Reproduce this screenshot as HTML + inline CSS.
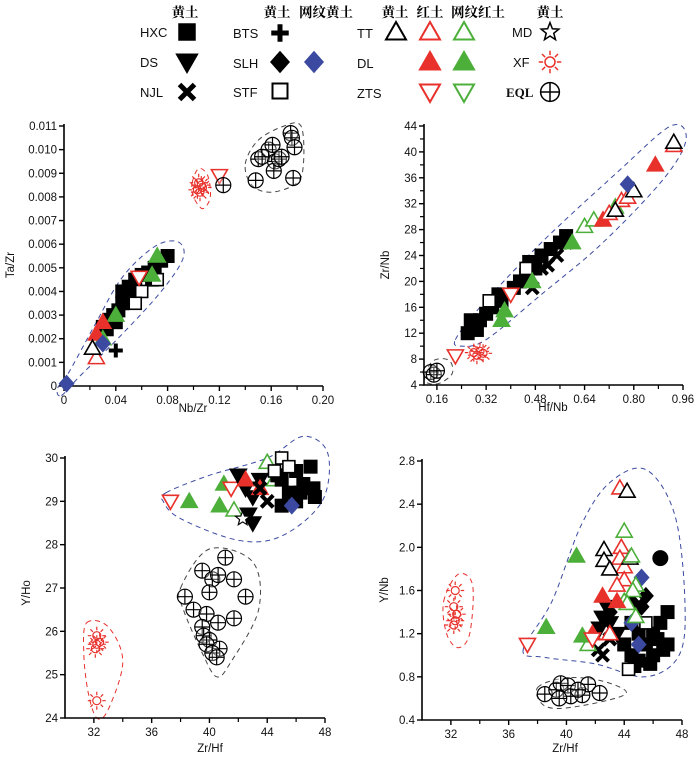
<!DOCTYPE html>
<html><head><meta charset="utf-8"><style>
html,body{margin:0;padding:0;background:#fff;}
svg{display:block;font-family:"Liberation Sans",Arial,sans-serif;}
.cjk{font-family:"Liberation Serif","Noto Serif CJK SC","Noto Sans CJK SC",serif;font-weight:bold;font-size:13.5px;}
.tl{font-size:11.5px;fill:#111;}
.ll{font-size:13px;fill:#111;}
</style></head><body>
<svg id="chart" width="700" height="760" viewBox="0 0 700 760">
<g id="legend"></g>
<g id="plots"></g>
</svg>
<script>
// ---------- Panel 1: Nb/Zr vs Ta/Zr ----------
const p1_HXC=[[0.030,0.0025],[0.035,0.0028],[0.038,0.0030],[0.042,0.0032],[0.045,0.0035],[0.048,0.0040],[0.050,0.0042],[0.055,0.0045],[0.060,0.0047],[0.065,0.0048],[0.070,0.0050],[0.075,0.0053],[0.080,0.0055],[0.045,0.0040],[0.052,0.0038],[0.068,0.0045],[0.040,0.0027],[0.033,0.0024]];
const p1_STF=[[0.060,0.0040],[0.055,0.0035],[0.072,0.0045]];
const p1_GF=[[0.072,0.0055],[0.068,0.0047],[0.030,0.0020],[0.040,0.0030]];
const p1_RF=[[0.025,0.0022],[0.030,0.0027]];
const p1_RO=[[0.025,0.0012]];
const p1_KO=[[0.022,0.0016]];
const p1_BTS=[[0.040,0.0015]];
const p1_BLUE=[[0.002,0.0001],[0.030,0.0018]];
const p1_RD=[[0.058,0.0046],[0.120,0.0089]];
const p1_XF=[[0.103,0.0083],[0.106,0.0085],[0.105,0.0082],[0.107,0.0084],[0.104,0.0086]];
const p1_EQL=[[0.123,0.0085],[0.148,0.0087],[0.150,0.0096],[0.153,0.0097],[0.158,0.0100],[0.161,0.0102],[0.163,0.0095],[0.162,0.0091],[0.166,0.0096],[0.168,0.0097],[0.175,0.0107],[0.176,0.0105],[0.178,0.0101],[0.177,0.0088]];
const p1_envBlue=[[-0.002,-0.0004],[0.012,0.0004],[0.045,0.0022],[0.075,0.0040],[0.092,0.0054],[0.088,0.0061],[0.070,0.0059],[0.045,0.0046],[0.024,0.0026],[0.004,0.0006],[-0.005,-0.0001]];
const p1_envRed=[[0.099,0.0086],[0.104,0.0092],[0.111,0.0089],[0.113,0.0080],[0.107,0.0075],[0.100,0.0080]];
const p1_envBlack=[[0.140,0.0094],[0.150,0.0104],[0.170,0.0110],[0.183,0.0110],[0.185,0.0095],[0.180,0.0086],[0.160,0.0082],[0.145,0.0085]];
const p1_xticks=[0,0.04,0.08,0.12,0.16,0.20];
const p1_xlabels=["0","0.04","0.08","0.12","0.16","0.20"];
const p1_yticks=[0,0.001,0.002,0.003,0.004,0.005,0.006,0.007,0.008,0.009,0.010,0.011];
const p1_ylabels=["0","0.001","0.002","0.003","0.004","0.005","0.006","0.007","0.008","0.009","0.010","0.011"];

// ---------- Panel 2: Hf/Nb vs Zr/Nb ----------
const p2_HXC=[[0.26,12],[0.28,13],[0.30,14],[0.32,15],[0.34,16],[0.37,17],[0.41,19],[0.43,20],[0.45,21],[0.48,22],[0.50,24],[0.53,25],[0.56,26],[0.58,27],[0.27,14],[0.36,18],[0.29,12.5],[0.46,23]];
const p2_NJL=[[0.50,22],[0.55,24],[0.58,26],[0.52,22.5],[0.47,19]];
const p2_GF=[[0.37,14],[0.38,15.5],[0.47,20],[0.60,26]];
const p2_GO=[[0.64,28.5],[0.67,29.5],[0.74,31.5]];
const p2_RF=[[0.70,29.5],[0.87,38]];
const p2_RO=[[0.72,30.5],[0.76,32.5],[0.78,33],[0.93,41]];
const p2_KO=[[0.93,41.5],[0.80,34],[0.74,31]];
const p2_BLUE=[[0.78,35]];
const p2_STF=[[0.45,22],[0.33,17]];
const p2_RD=[[0.40,18],[0.22,8.5]];
const p2_XF=[[0.28,9],[0.30,9.2],[0.29,8.6],[0.31,8.9]];
const p2_EQL=[[0.14,6],[0.15,5.6],[0.16,6.2]];
const p2_envBlue=[[0.22,11],[0.30,16],[0.50,26],[0.75,37],[0.92,44],[0.97,42],[0.90,36],[0.70,26],[0.50,18],[0.32,11],[0.24,10]];
const p2_envBlack=[[0.12,5.5],[0.15,7.8],[0.20,7.8],[0.21,5.8],[0.17,4.3],[0.13,4.3]];
const p2_xticks=[0.16,0.32,0.48,0.64,0.80,0.96];
const p2_xlabels=["0.16","0.32","0.48","0.64","0.80","0.96"];
const p2_yticks=[4,8,12,16,20,24,28,32,36,40,44];
const p2_ylabels=["4","8","12","16","20","24","28","32","36","40","44"];

// ---------- Panel 3: Zr/Hf vs Y/Ho ----------
const p3_HXC=[[45,29.5],[45.5,29.2],[46,29.7],[46.5,29.4],[47,29.8],[47.2,29.3],[46,29.0],[45,28.9],[47.3,29.1],[44.7,29.6],[46.3,29.2]];
const p3_STF=[[45,30],[45.5,29.8],[44.5,29.7]];
const p3_DS=[[42,29.6],[42.5,29.3],[43,29.1],[43,28.5],[42.7,28.7],[43.5,29.5]];
const p3_RD=[[37.3,29],[41.5,29.3]];
const p3_GF=[[38.6,29],[40.7,28.9],[41,29.4]];
const p3_GO=[[44,29.9],[41.7,28.8],[44.5,29.5]];
const p3_RF=[[42.5,29.5],[43.5,29.3]];
const p3_BLUE=[[45.7,28.9]];
const p3_MD=[[42.3,28.6]];
const p3_NJL=[[43.5,29.3],[44,29.0]];
const p3_EQL=[[41.1,27.7],[39.5,27.4],[40.2,27.2],[40.6,27.3],[41.7,27.2],[38.3,26.8],[42.5,26.8],[40,26.9],[38.9,26.5],[39.8,26.4],[40.6,26.2],[41.7,26.3],[39.5,26.1],[39.6,25.9],[40,25.8],[39.8,25.7],[40.7,25.6],[40.2,25.5],[40.5,25.4]];
const p3_XF=[[32.2,25.9],[32.2,25.7],[32.4,25.75],[32.1,25.6],[32.2,24.4]];
const p3_envBlue=[[37,29.2],[40,29.6],[44,30.0],[46.5,30.5],[48.2,30.1],[47.8,29.0],[45,28.2],[42,28.1],[38,28.6],[36.8,29.0]];
const p3_envBlack=[[38,27],[40,27.9],[43,27.6],[43.4,26.5],[41.5,25.3],[40.5,24.95],[39.5,25.5],[38.2,26.5]];
const p3_envRed=[[31.5,26.2],[33,26.1],[34,25.3],[33,24.2],[32.2,24.0],[31.6,24.6],[31.3,25.5]];
const p3_xticks=[32,36,40,44,48];
const p3_xlabels=["32","36","40","44","48"];
const p3_yticks=[24,25,26,27,28,29,30];
const p3_ylabels=["24","25","26","27","28","29","30"];

// ---------- Panel 4: Zr/Hf vs Y/Nb ----------
const p4_HXC=[[44,1.1],[44.5,1.0],[45,1.2],[45.5,1.1],[46,1.0],[46.5,1.3],[47,1.4],[47,1.1],[46,1.2],[45,0.95],[44.5,1.3],[46.7,1.05],[44.7,0.9],[45.8,0.92],[46.3,1.15]];
const p4_CIRC=[[46.5,1.9]];
const p4_SLH=[[45.5,1.55],[45.2,1.45],[44.5,1.5],[43,1.4]];
const p4_BLUE=[[45.2,1.72],[44.5,1.3],[45,1.1]];
const p4_STF=[[45.5,1.3],[44.3,0.87]];
const p4_DS=[[42.5,1.35],[43,1.3],[42.8,1.45],[43.5,1.2],[42.3,1.25]];
const p4_NJL=[[42.2,1.05],[42.5,1.0],[43,1.15]];
const p4_RO=[[43.7,2.55],[43.8,2.0],[43.7,1.9],[44,1.82],[44,1.7],[43.5,1.65],[43,1.2]];
const p4_KO=[[44.2,2.52],[42.6,1.98],[42.6,1.88],[43,1.8],[44.4,1.9]];
const p4_GO=[[44,2.15],[44.5,1.92],[44.8,1.65],[44.6,1.6],[44,1.5],[44.2,1.48],[44.8,1.36],[41.5,1.1]];
const p4_RF=[[42.5,1.55],[41.8,1.2],[43.5,1.5]];
const p4_GF=[[40.7,1.92],[38.6,1.26],[41.1,1.18]];
const p4_RD=[[37.3,1.1],[41.8,1.15]];
const p4_XF=[[32.3,1.6],[32.2,1.45],[32.4,1.38],[32.3,1.32],[32.2,1.28]];
const p4_EQL=[[38.5,0.64],[39.3,0.68],[39.6,0.74],[40.1,0.72],[40.3,0.62],[41.1,0.63],[41.5,0.73],[42.3,0.65],[39.5,0.6],[40.8,0.68]];
const p4_envBlue=[[37,1.05],[39,1.5],[41,2.2],[43,2.6],[45.5,2.72],[47.5,2.3],[48.2,1.5],[47.8,1.0],[45.5,0.8],[42,0.92],[38.5,0.98]];
const p4_envBlack=[[38,0.70],[40,0.79],[42.5,0.76],[44.1,0.64],[40.5,0.52],[38.5,0.53]];
const p4_envRed=[[31.5,1.5],[32.5,1.75],[33.5,1.65],[33.3,1.2],[32.5,1.07],[31.7,1.2]];
const p4_xticks=[32,36,40,44,48];
const p4_xlabels=["32","36","40","44","48"];
const p4_yticks=[0.4,0.8,1.2,1.6,2.0,2.4,2.8];
const p4_ylabels=["0.4","0.8","1.2","1.6","2.0","2.4","2.8"];

const NS="http://www.w3.org/2000/svg";
const RED="#e8312b",GREEN="#4caf3a",BLUE="#3b4aa0";
function el(tag,attrs,parent){const e=document.createElementNS(NS,tag);for(const k in attrs)e.setAttribute(k,attrs[k]);if(parent)parent.appendChild(e);return e;}

function marker(type,cx,cy,g){
  const s=7;let m;
  if(type==='sq'){m=el('rect',{x:cx-s,y:cy-s,width:2*s,height:2*s,fill:'#000'},g);}
  else if(type==='sqo'){m=el('rect',{x:cx-s+1,y:cy-s+1,width:2*s-2,height:2*s-2,fill:'#fff',stroke:'#000','stroke-width':1.6},g);}
  else if(type==='circ'){m=el('circle',{cx:cx,cy:cy,r:8,fill:'#000'},g);}
  else if(type==='ds'||type==='rd'||type==='gd'){
    const c=type==='ds'?'#000':(type==='rd'?RED:GREEN);
    m=el('polygon',{points:`${cx-8},${cy-6} ${cx+8},${cy-6} ${cx},${cy+8}`,fill:type==='ds'?'#000':'#fff',stroke:c,'stroke-width':1.6},g);}
  else if(type==='ko'||type==='ro'||type==='go'||type==='rf'||type==='gf'){
    const c=type[0]==='k'?'#000':(type[0]==='r'?RED:GREEN);const f=type[1]==='f';
    m=el('polygon',{points:`${cx},${cy-8} ${cx+8},${cy+6} ${cx-8},${cy+6}`,fill:f?c:'#fff',stroke:c,'stroke-width':1.6},g);}
  else if(type==='x'){m=el('path',{d:`M${cx-6},${cy-6}L${cx+6},${cy+6}M${cx+6},${cy-6}L${cx-6},${cy+6}`,stroke:'#000','stroke-width':4},g);}
  else if(type==='plus'){m=el('path',{d:`M${cx-7},${cy}L${cx+7},${cy}M${cx},${cy-7}L${cx},${cy+7}`,stroke:'#000','stroke-width':4},g);}
  else if(type==='dia'||type==='diab'){m=el('polygon',{points:`${cx},${cy-9} ${cx+8},${cy} ${cx},${cy+9} ${cx-8},${cy}`,fill:type==='dia'?'#000':BLUE},g);}
  else if(type==='star'){let p=[];for(let i=0;i<10;i++){const r=i%2?3.2:7.5,a=-Math.PI/2+i*Math.PI/5;p.push((cx+r*Math.cos(a)).toFixed(1)+','+(cy+r*Math.sin(a)).toFixed(1));}m=el('polygon',{points:p.join(' '),fill:'#fff',stroke:'#000','stroke-width':1.2},g);}
  else if(type==='sun'){m=el('g',{},g);el('circle',{cx:cx,cy:cy,r:4,fill:'none',stroke:RED,'stroke-width':1.2},m);let d='';for(let i=0;i<8;i++){const a=i*Math.PI/4;d+=`M${(cx+5.5*Math.cos(a)).toFixed(1)},${(cy+5.5*Math.sin(a)).toFixed(1)}L${(cx+9*Math.cos(a)).toFixed(1)},${(cy+9*Math.sin(a)).toFixed(1)}`;}el('path',{d:d,stroke:RED,'stroke-width':1.2},m);}
  else if(type==='eql'){m=el('g',{},g);el('circle',{cx:cx,cy:cy,r:7.5,fill:'#fff','fill-opacity':0.3,stroke:'#000','stroke-width':1.2},m);el('path',{d:`M${cx-7.5},${cy}L${cx+7.5},${cy}M${cx},${cy-7.5}L${cx},${cy+7.5}`,stroke:'#000','stroke-width':1.2},m);}
  return m;
}

function smoothPath(pts){
  const n=pts.length;let d=`M${pts[0][0].toFixed(1)},${pts[0][1].toFixed(1)}`;
  for(let i=0;i<n;i++){const p0=pts[(i-1+n)%n],p1=pts[i],p2=pts[(i+1)%n],p3=pts[(i+2)%n];
    const c1=[p1[0]+(p2[0]-p0[0])/6,p1[1]+(p2[1]-p0[1])/6],c2=[p2[0]-(p3[0]-p1[0])/6,p2[1]-(p3[1]-p1[1])/6];
    d+=`C${c1[0].toFixed(1)},${c1[1].toFixed(1)} ${c2[0].toFixed(1)},${c2[1].toFixed(1)} ${p2[0].toFixed(1)},${p2[1].toFixed(1)}`;}
  return d+'Z';
}

const plots=document.getElementById('plots');
function panel(cfg){
  const g=el('g',{},plots);
  
  
  const sx=v=>cfg.x0+(v-cfg.xmin)/(cfg.xmax-cfg.xmin)*(cfg.x1-cfg.x0);
  const sy=v=>cfg.y0-(v-cfg.ymin)/(cfg.ymax-cfg.ymin)*(cfg.y0-cfg.y1);
  cfg.envs.forEach(([pts,col,nm])=>{const p=el('path',{d:smoothPath(pts.map(q=>[sx(q[0]),sy(q[1])])),fill:'none',stroke:col,'stroke-width':1,'stroke-dasharray':'5,4'},g);
    
    });
  const ax=el('path',{d:`M${cfg.x0},${cfg.y1-2}L${cfg.x0},${cfg.y0}L${cfg.xEnd},${cfg.y0}`,fill:'none',stroke:'#000','stroke-width':1.6},g);
  
  
  const xa=el('g',{},g);
  
  
  cfg.xticks.forEach((v,i)=>{const X=sx(v);el('line',{x1:X,y1:cfg.y0,x2:X,y2:cfg.y0+5,stroke:'#000','stroke-width':1.4},xa);
    const t=el('text',{x:X,y:cfg.y0+18,'text-anchor':'middle',class:'tl'},xa);t.textContent=cfg.xlabels[i];
    
    
    if(i<cfg.xticks.length-1){const M=sx((v+cfg.xticks[i+1])/2);el('line',{x1:M,y1:cfg.y0,x2:M,y2:cfg.y0+4,stroke:'#000','stroke-width':1.2},xa);}});
  if(cfg.xticks[0]>cfg.xmin){const M=sx(cfg.xticks[0]-(cfg.xticks[1]-cfg.xticks[0])/2);if(M>cfg.x0)el('line',{x1:M,y1:cfg.y0,x2:M,y2:cfg.y0+4,stroke:'#000','stroke-width':1.2},xa);}
  const ya=el('g',{},g);
  
  
  cfg.yticks.forEach((v,i)=>{const Y=sy(v);el('line',{x1:cfg.x0-5,y1:Y,x2:cfg.x0,y2:Y,stroke:'#000','stroke-width':1.4},ya);
    const t=el('text',{x:cfg.x0-7,y:Y+4,'text-anchor':'end',class:'tl'},ya);t.textContent=cfg.ylabels[i];
    
    
    if(cfg.yminor&&i<cfg.yticks.length-1){const M=sy((v+cfg.yticks[i+1])/2);el('line',{x1:cfg.x0-4,y1:M,x2:cfg.x0,y2:M,stroke:'#000','stroke-width':1.2},ya);}});
  const xt=el('text',{x:cfg.xtx,y:cfg.xty,'text-anchor':'middle',class:'tl'},g);xt.textContent=cfg.xtitle;
  
  
  const yt=el('text',{x:0,y:0,'text-anchor':'middle',class:'tl',transform:`translate(${cfg.ytx},${cfg.yty}) rotate(-90)`},g);yt.textContent=cfg.ytitle;
  
  
  cfg.series.forEach(([data,type,nm])=>{const sg=el('g',{},g);
    
    
    data.forEach(p=>{const m=marker(type,sx(p[0]),sy(p[1]),sg);
      
      });});
}

panel({name:'panel-ta-zr-vs-nb-zr',x0:64,x1:323,xEnd:323,y0:386,y1:126,xmin:0,xmax:0.2,ymin:0,ymax:0.011,
  xticks:p1_xticks,xlabels:p1_xlabels,yticks:p1_yticks,ylabels:p1_ylabels,yminor:false,
  xtitle:'Nb/Zr',xtx:193,xty:412,ytitle:'Ta/Zr',ytx:14,yty:265,
  envs:[[p1_envBlue,BLUE,'envelope-loess'],[p1_envRed,RED,'envelope-xf'],[p1_envBlack,'#444','envelope-eql']],
  series:[[p1_HXC,'sq','series-hxc'],[p1_STF,'sqo','series-stf'],[p1_GF,'gf','series-dl-green'],[p1_RF,'rf','series-dl-red'],[p1_RO,'ro','series-tt-red'],[p1_KO,'ko','series-tt'],[p1_BTS,'plus','series-bts'],[p1_BLUE,'diab','series-slh-blue'],[p1_RD,'rd','series-zts-red'],[p1_XF,'sun','series-xf'],[p1_EQL,'eql','series-eql']]});

panel({name:'panel-zr-nb-vs-hf-nb',x0:424,x1:683,xEnd:683,y0:385,y1:126,xmin:0.118,xmax:0.96,ymin:4,ymax:44,
  xticks:p2_xticks,xlabels:p2_xlabels,yticks:p2_yticks,ylabels:p2_ylabels,yminor:true,
  xtitle:'Hf/Nb',xtx:553,xty:411,ytitle:'Zr/Nb',ytx:389,yty:265,
  envs:[[p2_envBlue,BLUE,'envelope-loess'],[p2_envBlack,'#444','envelope-eql']],
  series:[[p2_HXC,'sq','series-hxc'],[p2_STF,'sqo','series-stf'],[p2_NJL,'x','series-njl'],[p2_GF,'gf','series-dl-green'],[p2_GO,'go','series-tt-green'],[p2_RF,'rf','series-dl-red'],[p2_RO,'ro','series-tt-red'],[p2_KO,'ko','series-tt'],[p2_BLUE,'diab','series-slh-blue'],[p2_RD,'rd','series-zts-red'],[p2_XF,'sun','series-xf'],[p2_EQL,'eql','series-eql']]});

panel({name:'panel-y-ho-vs-zr-hf',x0:65,x1:325,xEnd:325,y0:718,y1:458,xmin:30,xmax:48,ymin:24,ymax:30,
  xticks:p3_xticks,xlabels:p3_xlabels,yticks:p3_yticks,ylabels:p3_ylabels,yminor:false,
  xtitle:'Zr/Hf',xtx:210,xty:752,ytitle:'Y/Ho',ytx:30,yty:593,
  envs:[[p3_envBlue,BLUE,'envelope-loess'],[p3_envBlack,'#444','envelope-eql'],[p3_envRed,RED,'envelope-xf']],
  series:[[p3_GF,'gf','series-dl-green'],[p3_RD,'rd','series-zts-red'],[p3_GO,'go','series-tt-green'],[p3_HXC,'sq','series-hxc'],[p3_STF,'sqo','series-stf'],[p3_DS,'ds','series-ds'],[p3_RF,'rf','series-dl-red'],[p3_BLUE,'diab','series-slh-blue'],[p3_MD,'star','series-md'],[p3_NJL,'x','series-njl'],[p3_EQL,'eql','series-eql'],[p3_XF,'sun','series-xf']]});

panel({name:'panel-y-nb-vs-zr-hf',x0:422,x1:682,xEnd:682,y0:720,y1:461,xmin:30,xmax:48,ymin:0.4,ymax:2.8,
  xticks:p4_xticks,xlabels:p4_xlabels,yticks:p4_yticks,ylabels:p4_ylabels,yminor:false,
  xtitle:'Zr/Hf',xtx:565,xty:752,ytitle:'Y/Nb',ytx:388,yty:590,
  envs:[[p4_envBlue,BLUE,'envelope-loess'],[p4_envBlack,'#444','envelope-eql'],[p4_envRed,RED,'envelope-xf']],
  series:[[p4_HXC,'sq','series-hxc'],[p4_CIRC,'circ','series-circle'],[p4_SLH,'dia','series-slh'],[p4_BLUE,'diab','series-slh-blue'],[p4_STF,'sqo','series-stf'],[p4_DS,'ds','series-ds'],[p4_NJL,'x','series-njl'],[p4_RO,'ro','series-tt-red'],[p4_KO,'ko','series-tt'],[p4_GO,'go','series-tt-green'],[p4_RF,'rf','series-dl-red'],[p4_GF,'gf','series-dl-green'],[p4_RD,'rd','series-zts-red'],[p4_XF,'sun','series-xf'],[p4_EQL,'eql','series-eql']]});

// ---------- Legend ----------
const lg=document.getElementById('legend');
function ltext(x,y,t,cls,nm,anchor){const e=el('text',{x:x,y:y,class:cls,'text-anchor':anchor||'start'},lg);e.textContent=t;
  
  return e;}
ltext(185,17,'黄土','cjk','legend-header-loess','middle');
ltext(277,17,'黄土','cjk','legend-header-loess','middle');
ltext(326,17,'网纹黄土','cjk','legend-header-reticulate-loess','middle');
ltext(395,17,'黄土','cjk','legend-header-loess','middle');
ltext(430,17,'红土','cjk','legend-header-red-soil','middle');
ltext(478,17,'网纹红土','cjk','legend-header-reticulate-red-soil','middle');
ltext(550,17,'黄土','cjk','legend-header-loess','middle');
const legItems=[
 ['HXC',140,37,[['sq',187,32]]],['DS',140,67,[['ds',187,62]]],['NJL',140,97,[['x',187,92]]],
 ['BTS',233,38,[['plus',280,33]]],['SLH',233,68,[['dia',280,62],['diab',314,62]]],['STF',233,97,[['sqo',280,91]]],
 ['TT',357,38,[['ko',396,32]]],['DL',357,68,[['rf',430,62],['gf',464,62]]],['ZTS',357,98,[['rd',430,92],['gd',464,92]]],
 ['MD',512,37,[['star',550,32]]],['XF',513,67,[['sun',550,62]]],['EQL',506,97,[['eql',550,92]]]];
legItems.forEach(([lab,x,y,ms])=>{
  const t=ltext(x,y,lab,'ll','legend-label-'+lab.toLowerCase());
  if(lab==='EQL'){t.setAttribute('style','font-family:"Liberation Serif",serif;font-weight:bold;font-size:13px');}
  ms.forEach(([ty,cx,cy])=>{const wrap=el('g',{transform:`translate(${cx},${cy}) scale(1.25) translate(${-cx},${-cy})`},lg);
    
    
    marker(ty,cx,cy,wrap);});
});
[['ro',430,32],['go',464,32]].forEach(([ty,cx,cy])=>{const wrap=el('g',{transform:`translate(${cx},${cy}) scale(1.25) translate(${-cx},${-cy})`},lg);
  
  
  marker(ty,cx,cy,wrap);});
</script>
</body></html>
